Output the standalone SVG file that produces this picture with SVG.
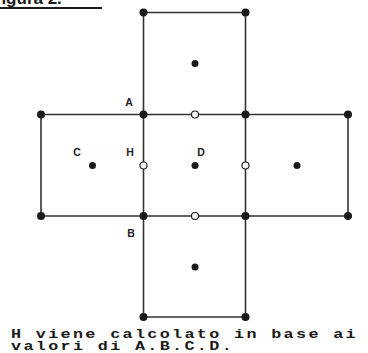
<svg xmlns="http://www.w3.org/2000/svg" width="368" height="353" viewBox="0 0 368 353">
<style>
.ln{stroke:#333;stroke-width:1.6;fill:none}
.dot{fill:#1a1a1a}
.open{fill:#fff;stroke:#222;stroke-width:1.2}
.lab{font-family:"Liberation Sans",Arial,sans-serif;font-weight:bold;font-size:10.5px;fill:#222;text-anchor:middle}
.cap{font-family:"Liberation Mono","Courier New",monospace;font-weight:bold;font-size:12px;fill:#1a1a1a;letter-spacing:1.66px}
.ttl{font-family:"Liberation Sans",Arial,sans-serif;font-weight:bold;font-size:17px;fill:#1a1a1a}
</style>
<rect width="368" height="353" fill="#fff"/>
<g id="title">
<text class="ttl" x="-9" y="4">Figura 2.</text>
<rect x="0" y="7" width="102" height="2" fill="#1a1a1a"/>
</g>
<g id="connectors">
<path class="ln" d="M143.5 12.5H245.5V317H143.5Z"/>
<path class="ln" d="M41 114.5H348V216H41Z"/>
</g>
<g id="corners">
<circle class="dot" cx="143.5" cy="12.5" r="4"/>
<circle class="dot" cx="245.5" cy="12.5" r="4"/>
<circle class="dot" cx="41" cy="114.5" r="4"/>
<circle class="dot" cx="143.5" cy="114.5" r="4"/>
<circle class="dot" cx="245.5" cy="114.5" r="4"/>
<circle class="dot" cx="348" cy="114.5" r="4"/>
<circle class="dot" cx="41" cy="216" r="4"/>
<circle class="dot" cx="143.5" cy="216" r="4"/>
<circle class="dot" cx="245.5" cy="216" r="4"/>
<circle class="dot" cx="348" cy="216" r="4"/>
<circle class="dot" cx="143.5" cy="317" r="4"/>
<circle class="dot" cx="245.5" cy="317" r="4"/>
</g>
<g id="centers">
<circle class="dot" cx="195" cy="63.5" r="3.5"/>
<circle class="dot" cx="92.5" cy="165.5" r="3.5"/>
<circle class="dot" cx="195" cy="165.5" r="3.5"/>
<circle class="dot" cx="297" cy="165.5" r="3.5"/>
<circle class="dot" cx="195" cy="267" r="3.5"/>
</g>
<g id="midpoints">
<circle class="open" cx="195" cy="114.5" r="3.5"/>
<circle class="open" cx="143.5" cy="165.5" r="3.5"/>
<circle class="open" cx="245.5" cy="165.5" r="3.5"/>
<circle class="open" cx="195" cy="216" r="3.5"/>
</g>
<g id="labels">
<text class="lab" x="129" y="106">A</text>
<text class="lab" x="130" y="156">H</text>
<text class="lab" x="201" y="156">D</text>
<text class="lab" x="131" y="237">B</text>
<text class="lab" x="77" y="156">C</text>
</g>
<g id="caption">
<text class="cap" transform="translate(11 337.5) scale(1.4 1)">H viene calcolato in base ai</text>
<text class="cap" transform="translate(11 350) scale(1.4 1)">valori di A.B.C.D.</text>
</g>
</svg>
